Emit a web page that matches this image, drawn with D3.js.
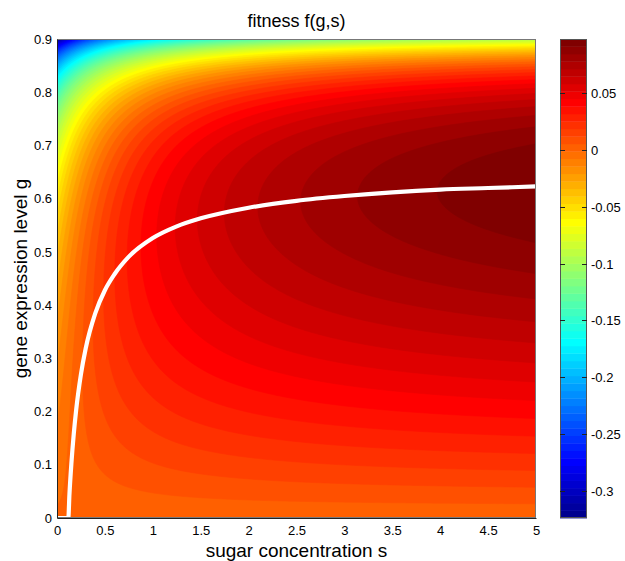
<!DOCTYPE html>
<html>
<head>
<meta charset="utf-8">
<script src="https://cdn.jsdelivr.net/npm/d3@7"></script>
<style>
  body { margin: 0; background: #fff; }
  svg text { font-family: "Liberation Sans", Arial, Helvetica, sans-serif; fill: #000; }
</style>
</head>
<body>
<div id="chart"></div>
<script>
// ── Data ─────────────────────────────────────────────────────────────────
// benefit of sugar per unit expression, B(s)
const sugarKnots   = [0, 0.05, 0.1, 0.2, 0.3, 0.5, 0.75, 1, 1.5, 2, 2.5, 3, 3.5, 4, 4.5, 5];
const sugarBenefit = [0, 0.0164, 0.0310, 0.0560, 0.0767, 0.1089, 0.1378, 0.1590, 0.1877,
                      0.2063, 0.2194, 0.2291, 0.2366, 0.2425, 0.2473, 0.2513];
// cost of expression, C(g)
const exprKnots = [0, 0.1, 0.2, 0.3, 0.4, 0.5, 0.6, 0.65, 0.7, 0.75, 0.775, 0.8, 0.825, 0.85, 0.875, 0.8875, 0.9];
const exprCost  = [0, 0.0040, 0.0090, 0.0154, 0.0240, 0.0360, 0.0540, 0.0669, 0.0840, 0.1080,
                   0.1240, 0.1440, 0.1697, 0.2040, 0.2520, 0.2840, 0.3240];
// optimal expression curve (white line)
const optSugar = [0, 0.05, 0.1, 0.118, 0.13, 0.15, 0.175, 0.2, 0.25, 0.3, 0.4, 0.5, 0.6, 0.75,
                  1, 1.25, 1.5, 2, 2.5, 3, 3.5, 4, 4.5, 5];
const optGene  = [0, 0, 0, 0, 0.045, 0.102, 0.158, 0.203, 0.270, 0.319, 0.385, 0.428, 0.458, 0.491,
                  0.526, 0.548, 0.563, 0.583, 0.596, 0.605, 0.612, 0.617, 0.620, 0.623];

const xTicks = [0, 0.5, 1, 1.5, 2, 2.5, 3, 3.5, 4, 4.5, 5];
const yTicks = [0, 0.1, 0.2, 0.3, 0.4, 0.5, 0.6, 0.7, 0.8, 0.9];
const cbarTicks = [0.05, 0, -0.05, -0.1, -0.15, -0.2, -0.25, -0.3];
const colorRange = [-0.324, 0.098];
const nLevels = 64;

// ── Helpers ──────────────────────────────────────────────────────────────
// natural cubic spline through the knots
function spline(xs, ys) {
  const n = xs.length, h = [], al = [], l = [1], mu = [0], z = [0];
  const b = [], c = new Array(n).fill(0), d = [];
  for (let i = 0; i < n - 1; i++) h[i] = xs[i + 1] - xs[i];
  for (let i = 1; i < n - 1; i++)
    al[i] = (3 / h[i]) * (ys[i + 1] - ys[i]) - (3 / h[i - 1]) * (ys[i] - ys[i - 1]);
  for (let i = 1; i < n - 1; i++) {
    l[i] = 2 * (xs[i + 1] - xs[i - 1]) - h[i - 1] * mu[i - 1];
    mu[i] = h[i] / l[i];
    z[i] = (al[i] - h[i - 1] * z[i - 1]) / l[i];
  }
  for (let j = n - 2; j >= 0; j--) {
    c[j] = (j > 0 ? z[j] : 0) - (j > 0 ? mu[j] : 0) * c[j + 1];
    b[j] = (ys[j + 1] - ys[j]) / h[j] - (h[j] * (c[j + 1] + 2 * c[j])) / 3;
    d[j] = (c[j + 1] - c[j]) / (3 * h[j]);
  }
  return (x) => {
    const j = Math.max(0, Math.min(n - 2, d3.bisectRight(xs, x) - 1));
    const t = x - xs[j];
    return ys[j] + b[j] * t + c[j] * t * t + d[j] * t * t * t;
  };
}

// MATLAB jet(64)
function jet(i) {
  // i: 1..64
  const r = i < 25 ? 0 : i <= 40 ? (i - 24) / 16 : i <= 56 ? 1 : (72 - i) / 16;
  const g = i < 9 ? 0 : i <= 24 ? (i - 8) / 16 : i <= 40 ? 1 : i <= 55 ? (56 - i) / 16 : 0;
  const b = i <= 8 ? (i + 8) / 16 : i <= 24 ? 1 : i <= 39 ? (40 - i) / 16 : 0;
  return d3.rgb(r * 255, g * 255, b * 255).formatHex();
}

// ── Layout ───────────────────────────────────────────────────────────────
const W = 625, H = 561;
const ax = { x0: 57, x1: 536, y0: 39, y1: 518 };
const cb = { x0: 560, x1: 587 };

const svg = d3.select("#chart").append("svg").attr("width", W).attr("height", H);

const xScale = d3.scaleLinear().domain([0, 5]).range([ax.x0, ax.x1]);
const yScale = d3.scaleLinear().domain([0, 0.9]).range([ax.y1, ax.y0]);
const cScale = d3.scaleLinear().domain(colorRange).range([ax.y1, ax.y0]);

const edges = d3.range(nLevels + 1).map(
  (k) => colorRange[0] + (k * (colorRange[1] - colorRange[0])) / nLevels
);

// ── Field ────────────────────────────────────────────────────────────────
const B = spline(sugarKnots, sugarBenefit);
const C = spline(exprKnots, exprCost);

const step = 2;
const nx = Math.ceil((ax.x1 - ax.x0) / step) + 3;
const ny = Math.ceil((ax.y1 - ax.y0) / step) + 3;
const values = new Float64Array(nx * ny);
for (let j = 0; j < ny; j++) {
  const g = yScale.invert(ax.y0 + (j - 1) * step);
  const cg = C(g);
  for (let i = 0; i < nx; i++) {
    const s = xScale.invert(ax.x0 + (i - 1) * step);
    values[j * nx + i] = g * B(s) - cg;
  }
}

svg.append("clipPath").attr("id", "axclip")
  .append("rect")
  .attr("x", ax.x0).attr("y", ax.y0)
  .attr("width", ax.x1 - ax.x0).attr("height", ax.y1 - ax.y0);

const plot = svg.append("g").attr("clip-path", "url(#axclip)");

plot.append("rect")
  .attr("x", ax.x0).attr("y", ax.y0)
  .attr("width", ax.x1 - ax.x0).attr("height", ax.y1 - ax.y0)
  .attr("fill", jet(1));

const contours = d3.contours().size([nx, ny]).thresholds(edges.slice(1, nLevels))(values);

plot.append("g")
  .attr("transform", `translate(${ax.x0 - 1.5 * step},${ax.y0 - 1.5 * step}) scale(${step})`)
  .selectAll("path")
  .data(contours)
  .join("path")
  .attr("d", d3.geoPath())
  .attr("fill", (d, k) => jet(k + 2))
  .attr("stroke", (d, k) => jet(k + 2))
  .attr("stroke-width", 0.3);

// ── Optimal expression line ──────────────────────────────────────────────
const optLine = d3.line()
  .x((d, i) => xScale(optSugar[i]))
  .y((d, i) => yScale(optGene[i]))
  .curve(d3.curveMonotoneX);

plot.append("path")
  .attr("d", optLine(optSugar))
  .attr("fill", "none")
  .attr("stroke", "#fff")
  .attr("stroke-width", 4.2);

// ── Axes ─────────────────────────────────────────────────────────────────
svg.append("rect")
  .attr("x", ax.x0 + 0.5).attr("y", ax.y0 + 0.5)
  .attr("width", ax.x1 - ax.x0 - 1).attr("height", ax.y1 - ax.y0 - 1)
  .attr("fill", "none").attr("stroke", "#777").attr("stroke-width", 1);

const xAxis = svg.append("g")
  .attr("transform", `translate(0,${ax.y1})`)
  .call(d3.axisBottom(xScale).tickValues(xTicks).tickSize(0).tickPadding(8)
    .tickFormat((d) => String(d)));
xAxis.select(".domain").attr("stroke", "#222");
xAxis.selectAll("text").style("font-size", "13px");

const yAxis = svg.append("g")
  .attr("transform", `translate(${ax.x0},0)`)
  .call(d3.axisLeft(yScale).tickValues(yTicks).tickSize(0).tickPadding(5)
    .tickFormat((d) => String(d)));
yAxis.select(".domain").attr("stroke", "#222");
yAxis.selectAll("text").style("font-size", "13px");

// ── Labels ───────────────────────────────────────────────────────────────
svg.append("text")
  .attr("x", (ax.x0 + ax.x1) / 2).attr("y", 27)
  .attr("text-anchor", "middle")
  .style("font-size", "18px")
  .text("fitness f(g,s)");

svg.append("text")
  .attr("x", (ax.x0 + ax.x1) / 2).attr("y", 557)
  .attr("text-anchor", "middle")
  .style("font-size", "19px")
  .text("sugar concentration s");

svg.append("text")
  .attr("transform", `translate(27,${(ax.y0 + ax.y1) / 2}) rotate(-90)`)
  .attr("text-anchor", "middle")
  .style("font-size", "19px")
  .text("gene expression level g");

// ── Colorbar ─────────────────────────────────────────────────────────────
const cbar = svg.append("g");
cbar.selectAll("rect")
  .data(d3.range(nLevels))
  .join("rect")
  .attr("x", cb.x0)
  .attr("width", cb.x1 - cb.x0)
  .attr("y", (k) => cScale(edges[k + 1]))
  .attr("height", (k) => cScale(edges[k]) - cScale(edges[k + 1]) + 0.4)
  .attr("fill", (k) => jet(k + 1));

cbar.append("rect")
  .attr("x", cb.x0 + 0.5).attr("y", ax.y0 + 0.5)
  .attr("width", cb.x1 - cb.x0 - 1).attr("height", ax.y1 - ax.y0 - 1)
  .attr("fill", "none").attr("stroke", "#555");

const cbTicks = cbar.selectAll(".cbtick").data(cbarTicks).join("g")
  .attr("class", "cbtick")
  .attr("transform", (d) => `translate(0,${Math.round(cScale(d)) + 0.5})`);
cbTicks.append("line").attr("x1", cb.x0).attr("x2", cb.x0 + 5).attr("stroke", "#222");
cbTicks.append("line").attr("x1", cb.x1 - 5).attr("x2", cb.x1).attr("stroke", "#222");
cbTicks.append("text")
  .attr("x", cb.x1 + 4).attr("dy", "0.35em")
  .style("font-size", "13px")
  .text((d) => String(d));
</script>
</body>
</html>
